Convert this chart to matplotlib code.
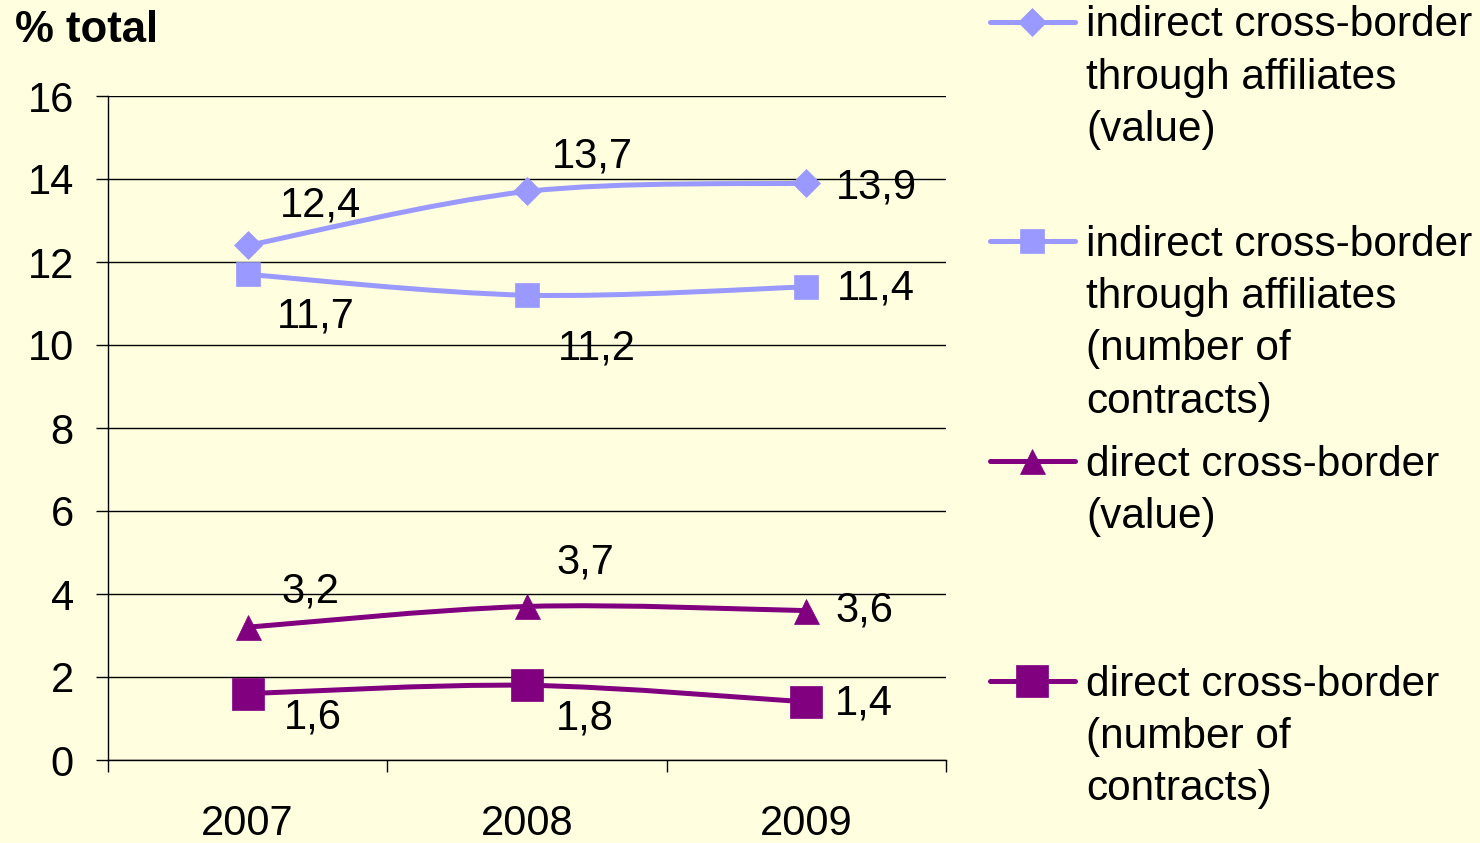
import numpy as np
import matplotlib
matplotlib.use("Agg")
import matplotlib.pyplot as plt
from matplotlib.path import Path
from matplotlib.patches import PathPatch
from matplotlib.lines import Line2D

# ---- data ----
years = ["2007", "2008", "2009"]
indirect_value = [12.4, 13.7, 13.9]
indirect_number = [11.7, 11.2, 11.4]
direct_value = [3.2, 3.7, 3.6]
direct_number = [1.6, 1.8, 1.4]
labels = [
    "indirect cross-border\nthrough affiliates\n(value)",
    "indirect cross-border\nthrough affiliates\n(number of\ncontracts)",
    "direct cross-border\n(value)",
    "direct cross-border\n(number of\ncontracts)",
]
y_ticks = [0, 2, 4, 6, 8, 10, 12, 14, 16]

# ---- style ----
LIGHT = "#9999FF"
DARK = "#800080"
BG = "#FFFFE0"
FONT = "Liberation Sans"
plt.rcParams["font.family"] = [FONT, "DejaVu Sans"]
FS = 30
LW = 3.6

series = [
    dict(y=indirect_value, color=LIGHT, marker="D", ms=14,
         offs=[(73, 40), (65, 35), (70, -4)]),
    dict(y=indirect_number, color=LIGHT, marker="s", ms=17,
         offs=[(68, -42), (70, -53), (70, -2)]),
    dict(y=direct_value, color=DARK, marker="^", ms=18,
         offs=[(63, 36), (58, 44), (58, 0)]),
    dict(y=direct_number, color=DARK, marker="s", ms=22.5,
         offs=[(65, -24), (58, -33), (58, -2)]),
]

W, H = 1480, 843
fig = plt.figure(figsize=(W / 100, H / 100), dpi=100, facecolor=BG)
ax = fig.add_axes([108 / W, 1 - 760 / H, (946 - 108) / W, (760 - 96) / H])
ax.set_facecolor(BG)

x = np.arange(1, len(years) + 1)


def smooth_path(xs, ys):
    """Excel-like smoothed line as cubic Bezier segments between data points."""
    pts = np.column_stack([xs, ys]).astype(float)
    n = len(pts)
    verts = [pts[0]]
    codes = [Path.MOVETO]
    for i in range(n - 1):
        p0 = pts[i - 1] if i > 0 else pts[i]
        p1 = pts[i]
        p2 = pts[i + 1]
        p3 = pts[i + 2] if i + 2 < n else pts[i + 1]
        c1 = p1 + (p2 - p0) / 6.0
        c2 = p2 - (p3 - p1) / 6.0
        verts += [c1, c2, p2]
        codes += [Path.CURVE4] * 3
    return Path(verts, codes)


for s in series:
    patch = PathPatch(smooth_path(x, s["y"]), facecolor="none",
                      edgecolor=s["color"], lw=LW, zorder=3,
                      capstyle="round", joinstyle="round")
    ax.add_patch(patch)
    ax.plot(x, s["y"], linestyle="none", marker=s["marker"], ms=s["ms"],
            color=s["color"], mec=s["color"], mew=0.5, zorder=4)
    for xi, yi, (dx, dy) in zip(x, s["y"], s["offs"]):
        ax.annotate(f"{yi:.1f}".replace(".", ","), (xi, yi),
                    xytext=(dx, dy), textcoords="offset pixels",
                    ha="center", va="center", fontsize=FS, zorder=5)

ax.set_xlim(0.5, len(years) + 0.5)
ax.set_ylim(0, 16)
ax.set_yticks(y_ticks)
ax.set_yticklabels([str(t) for t in y_ticks])
ax.tick_params(axis="y", direction="out", length=8.6, width=1,
               pad=16, labelsize=FS, color="black")
ax.yaxis.grid(True, color="black", lw=1)
ax.set_axisbelow(True)

ax.set_xticks(np.arange(0.5, len(years) + 1, 1.0))
ax.set_xticklabels([])
ax.set_xticks(x, minor=True)
ax.set_xticklabels(years, minor=True)
ax.tick_params(axis="x", which="major", direction="out", length=8.6,
               width=1, color="black")
ax.tick_params(axis="x", which="minor", length=0, pad=32, labelsize=FS)

for side in ["top", "right"]:
    ax.spines[side].set_visible(False)
for side in ["left", "bottom"]:
    ax.spines[side].set_color("black")
    ax.spines[side].set_linewidth(1)

# title
fig.text(15 / W, 1 - 30 / H, "% total", fontsize=31.5, fontweight="bold",
         ha="left", va="center")

# legend (manual, aligned to first text line of each entry)
entry_y = [22, 241, 461, 681]
for s, lab, ey in zip(series, labels, entry_y):
    yf = 1 - ey / H
    fig.add_artist(Line2D([990 / W, 1075 / W], [yf, yf], color=s["color"],
                          lw=LW, solid_capstyle="round",
                          transform=fig.transFigure))
    fig.add_artist(Line2D([1032 / W], [yf], color=s["color"],
                          marker=s["marker"], ms=s["ms"], mew=0.5,
                          linestyle="none", transform=fig.transFigure))
    fig.text(1086 / W, yf + 16.5 / H, lab, fontsize=30.5, ha="left",
             va="top", linespacing=1.4)

fig.savefig("out.png", dpi=100, facecolor=BG)
